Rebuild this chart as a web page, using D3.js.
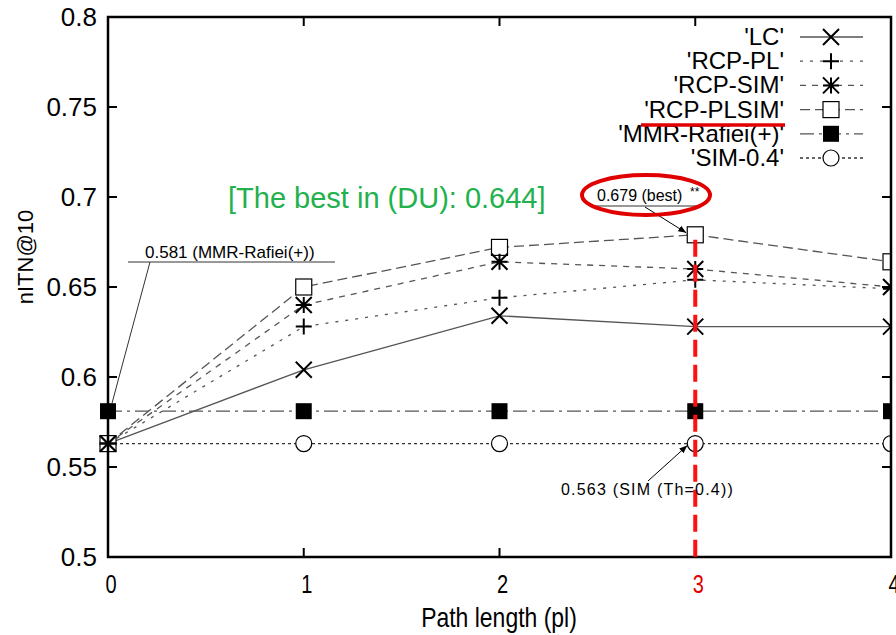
<!DOCTYPE html>
<html><head><meta charset="utf-8">
<script src="https://cdn.jsdelivr.net/npm/d3@7"></script>
<style>body{margin:0;background:#fff}svg{display:block}text{font-family:"Liberation Sans",Arial,sans-serif}</style>
</head><body><svg id="c" width="896" height="635"></svg>
<script>
const xValues = [0, 1, 2, 3, 4];
const seriesNames = ["'LC'", "'RCP-PL'", "'RCP-SIM'", "'RCP-PLSIM'", "'MMR-Rafiei(+)'", "'SIM-0.4'"];
const lcValues = [0.563, 0.604, 0.634, 0.628, 0.628];
const rcpPlValues = [0.563, 0.628, 0.644, 0.654, 0.649];
const rcpSimValues = [0.563, 0.640, 0.664, 0.660, 0.650];
const rcpPlSimValues = [0.563, 0.650, 0.672, 0.679, 0.664];
const mmrValues = [0.581, 0.581, 0.581, 0.581, 0.581];
const sim04Values = [0.563, 0.563, 0.563, 0.563, 0.563];
const yTicks = [0.5, 0.55, 0.6, 0.65, 0.7, 0.75, 0.8];
const xTicks = [0, 1, 2, 3, 4];

const svg = d3.select("#c");
const L = 108, R = 891, T = 17, B = 557;
const x = d3.scaleLinear().domain([0, 4]).range([L, R]);
const y = d3.scaleLinear().domain([0.5, 0.8]).range([B, T]);

const styles = [
  {vals: lcValues, dash: null, color: "#555", marker: "x"},
  {vals: rcpPlValues, dash: "3,7", color: "#555", marker: "plus"},
  {vals: rcpSimValues, dash: "6,6", color: "#555", marker: "star"},
  {vals: rcpPlSimValues, dash: "10,5", color: "#555", marker: "square"},
  {vals: mmrValues, dash: "14,5,3,5", color: "#555", marker: "fsquare"},
  {vals: sim04Values, dash: "3,3", color: "#333", marker: "circle"}
];

const g = svg.append("g");
const defs = svg.append("defs");
defs.append("clipPath").attr("id","pc").append("rect")
  .attr("x", L-12).attr("y", T).attr("width", R-L+12).attr("height", B-T);

function drawMarker(sel, type, cx, cy) {
  const s = 8;
  if (type === "x") {
    sel.append("path").attr("d", `M${cx-s},${cy-s}L${cx+s},${cy+s}M${cx-s},${cy+s}L${cx+s},${cy-s}`).attr("stroke","#000").attr("stroke-width",2);
  } else if (type === "plus") {
    sel.append("path").attr("d", `M${cx-s},${cy}L${cx+s},${cy}M${cx},${cy-s}L${cx},${cy+s}`).attr("stroke","#000").attr("stroke-width",2);
  } else if (type === "star") {
    sel.append("path").attr("d", `M${cx-s},${cy-s}L${cx+s},${cy+s}M${cx-s},${cy+s}L${cx+s},${cy-s}M${cx-s},${cy}L${cx+s},${cy}M${cx},${cy-s}L${cx},${cy+s}`).attr("stroke","#000").attr("stroke-width",2);
  } else if (type === "square") {
    sel.append("rect").attr("x",cx-s).attr("y",cy-s).attr("width",2*s).attr("height",2*s).attr("fill","#fff").attr("stroke","#000").attr("stroke-width",1.2);
  } else if (type === "fsquare") {
    sel.append("rect").attr("x",cx-s).attr("y",cy-s).attr("width",2*s).attr("height",2*s).attr("fill","#000");
  } else if (type === "circle") {
    sel.append("circle").attr("cx",cx).attr("cy",cy).attr("r",s).attr("fill","#fff").attr("stroke","#000").attr("stroke-width",1.2);
  }
}

const line = d3.line().x((d,i)=>x(xValues[i])).y(d=>y(d));
const plot = g.append("g").attr("clip-path","url(#pc)");
styles.slice().reverse().forEach(st => {
  plot.append("path").datum(st.vals).attr("d", line).attr("fill","none")
    .attr("stroke", st.color).attr("stroke-width",1.3).attr("stroke-dasharray", st.dash);
});
styles.slice().reverse().forEach(st => {
  st.vals.forEach((v,i) => drawMarker(plot, st.marker, x(xValues[i]), y(v)));
});

// frame
g.append("rect").attr("x",L).attr("y",T).attr("width",R-L).attr("height",B-T).attr("fill","none").attr("stroke","#000").attr("stroke-width",2.5);

// ticks
yTicks.forEach(t => {
  if (t > 0.5 && t < 0.8) {
    g.append("line").attr("x1",L).attr("x2",L+9).attr("y1",y(t)).attr("y2",y(t)).attr("stroke","#000").attr("stroke-width",2);
    g.append("line").attr("x1",R).attr("x2",R-9).attr("y1",y(t)).attr("y2",y(t)).attr("stroke","#000").attr("stroke-width",2);
  }
  g.append("text").attr("x",L-11).attr("y",y(t)+9).attr("text-anchor","end").attr("font-size",26).attr("fill","#000").text(d3.format("")(t));
});
xTicks.forEach(t => {
  if (t > 0 && t < 4) {
    g.append("line").attr("x1",x(t)).attr("x2",x(t)).attr("y1",B).attr("y2",B-9).attr("stroke","#000").attr("stroke-width",2);
    g.append("line").attr("x1",x(t)).attr("x2",x(t)).attr("y1",T).attr("y2",T+9).attr("stroke","#000").attr("stroke-width",2);
  }
  const tx = x(t)+3, ty = B+36;
  g.append("text").attr("x",tx).attr("y",ty).attr("text-anchor","middle").attr("font-size",25)
    .attr("fill", t===3 ? "#e00000" : "#000").attr("transform", `translate(${tx},${ty}) scale(0.8,1) translate(${-tx},${-ty})`).text(t);
});

// axis labels
g.append("text").attr("x",499).attr("y",627).attr("text-anchor","middle").attr("font-size",28)
  .attr("transform","translate(499,627) scale(0.82,1) translate(-499,-627)").text("Path length (pl)");
g.append("text").attr("transform","translate(33,257) rotate(-90)").attr("text-anchor","middle").attr("font-size",22).text("nITN@10");

// legend
const lgX = 784, lgY0 = 37, lgDy = 24.2;
const lg = g.append("g");
seriesNames.forEach((n,i) => {
  const yy = lgY0 + i*lgDy;
  lg.append("text").attr("x",lgX).attr("y",yy+8).attr("text-anchor","end").attr("font-size",24).text(n);
  lg.append("line").attr("x1",800).attr("x2",863).attr("y1",yy).attr("y2",yy).attr("stroke",styles[i].color).attr("stroke-width",1.3).attr("stroke-dasharray",styles[i].dash);
  drawMarker(lg, styles[i].marker, 831, yy);
});
g.append("line").attr("x1",641).attr("x2",785).attr("y1",125).attr("y2",125).attr("stroke","#e00000").attr("stroke-width",3.5);

// red dashed vertical at x=3
g.append("line").attr("x1",x(3)).attr("x2",x(3)).attr("y1",y(0.679)+5).attr("y2",B).attr("stroke","#ff1010").attr("stroke-width",4).attr("stroke-dasharray","17,8");

// green title
g.append("text").attr("x",228).attr("y",208).attr("font-size",29).attr("fill","#22b14c").text("[The best in (DU): 0.644]");

// annotations
defs.append("marker").attr("id","arr").attr("viewBox","0 0 10 10").attr("refX",10).attr("refY",5)
  .attr("markerWidth",8).attr("markerHeight",8).attr("orient","auto")
  .append("path").attr("d","M0,1L10,5L0,9z").attr("fill","#000");

g.append("text").attr("x",145).attr("y",258).attr("font-size",17).text("0.581 (MMR-Rafiei(+))");
g.append("line").attr("x1",128).attr("x2",335).attr("y1",262).attr("y2",262).attr("stroke","#333").attr("stroke-width",1);
g.append("line").attr("x1",150).attr("x2",x(0)+4).attr("y1",262).attr("y2",y(0.581)-8).attr("stroke","#333").attr("stroke-width",1);

g.append("text").attr("x",597).attr("y",201).attr("font-size",16).text("0.679 (best)");
g.append("text").attr("x",690).attr("y",196).attr("font-size",12).text("**");
g.append("line").attr("x1",595).attr("x2",700).attr("y1",206).attr("y2",206).attr("stroke","#333").attr("stroke-width",1);
g.append("line").attr("x1",645).attr("x2",x(3)-9).attr("y1",207).attr("y2",y(0.679)-2).attr("stroke","#000").attr("stroke-width",1).attr("marker-end","url(#arr)");
g.append("ellipse").attr("cx",646).attr("cy",195).attr("rx",64).attr("ry",20).attr("fill","none").attr("stroke","#e00000").attr("stroke-width",4);

g.append("text").attr("x",561).attr("y",495).attr("font-size",16).attr("letter-spacing",1.2).text("0.563 (SIM (Th=0.4))");
g.append("line").attr("x1",648).attr("x2",x(3)-8).attr("y1",481).attr("y2",y(0.563)+2).attr("stroke","#000").attr("stroke-width",1).attr("marker-end","url(#arr)");
</script></body></html>
